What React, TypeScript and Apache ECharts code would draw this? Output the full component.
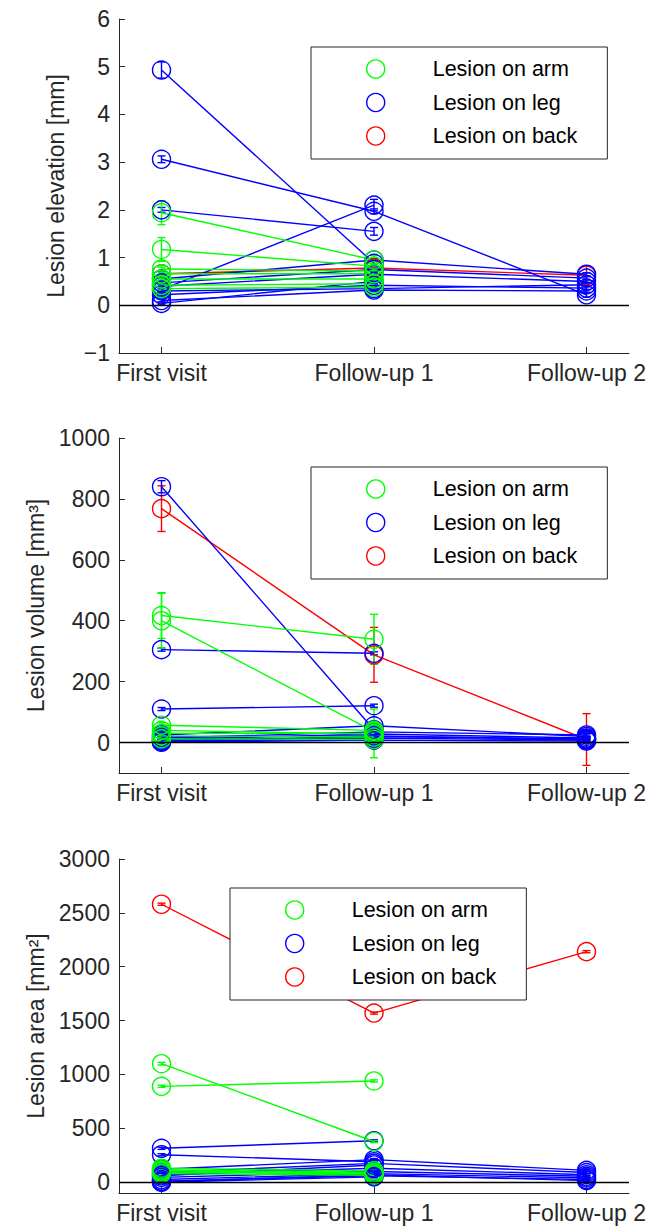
import React, { useEffect, useRef } from 'react';
import * as echarts from 'echarts';

// ---------- categories ----------
const visitLabels = ['First visit', 'Follow-up 1', 'Follow-up 2'];
const visitPos = [1, 2, 3];
const groupNames = ['Lesion on arm', 'Lesion on leg', 'Lesion on back'];
const groupColors = ['#00ff00', '#0000ff', '#ff0000'];

// ---------- tick labels ----------
const elevationTicks = [-1, 0, 1, 2, 3, 4, 5, 6];
const volumeTicks = [0, 200, 400, 600, 800, 1000];
const areaTicks = [0, 500, 1000, 1500, 2000, 2500, 3000];

// ---------- Lesion elevation [mm] ----------
const armElevation = [
  [1.94, 0.95, null], [1.17, 0.82, null], [0.76, 0.72, null], [0.66, 0.66, null],
  [0.55, 0.55, null], [0.42, 0.45, null], [0.35, 0.38, null],
];
const armElevationErr = [
  [0.25, 0.1, null], [0.25, 0.05, null], [0.04, 0.03, null], [0.03, 0.03, null],
  [0.03, 0.03, null], [0.03, 0.03, null], [0.03, 0.03, null],
];
const legElevation = [
  [4.93, 0.88, null], [3.06, 1.97, 0.22], [2.0, 1.55, null], [0.33, 2.1, null],
  [0.55, 0.95, 0.65], [0.47, 0.75, 0.57], [0.4, 0.65, 0.5], [0.3, 0.35, 0.43],
  [0.1, 0.32, 0.3], [0.04, 0.5, null], [0.22, 0.42, 0.36],
];
const legElevationErr = [
  [0.17, 0.05, null], [0.07, 0.05, 0.05], [0.05, 0.08, null], [0.03, 0.12, null],
  [0.03, 0.03, 0.03], [0.03, 0.03, 0.03], [0.03, 0.03, 0.03], [0.03, 0.03, 0.03],
  [0.03, 0.03, 0.03], [0.03, 0.03, null], [0.03, 0.03, 0.03],
];
const backElevation = [[0.66, 0.78, 0.63]];
const backElevationErr = [[0.05, 0.05, 0.2]];

// ---------- Lesion volume [mm3] ----------
const armVolume = [
  [400, 36, null], [417, 339, null], [57, 40, null], [30, 30, null],
  [22, 18, null], [12, 10, null], [40, 28, null],
];
const armVolumeErr = [
  [90, 10, null], [75, 82, null], [8, 6, null], [6, 80, null],
  [5, 5, null], [5, 5, null], [5, 5, null],
];
const legVolume = [
  [840, 42, null], [25, 55, 20], [305, 293, null], [110, 121, null],
  [15, 35, 25], [10, 28, 15], [6, 20, 12], [3, 15, 8],
  [1, 8, 5], [5, 12, null], [18, 22, 10],
];
const legVolumeErr = [
  [20, 5, null], [5, 5, 5], [5, 5, null], [5, 5, null],
  [5, 5, 5], [5, 5, 5], [5, 5, 5], [5, 5, 5],
  [5, 5, 5], [5, 5, null], [5, 5, 5],
];
const backVolume = [[768, 288, 10]];
const backVolumeErr = [[75, 90, 85]];

// ---------- Lesion area [mm2] ----------
const armArea = [
  [1100, 378, null], [890, 940, null], [130, 105, null], [115, 90, null],
  [95, 75, null], [80, 65, null], [105, 85, null],
];
const armAreaErr = [
  [12, 10, null], [10, 10, null], [10, 10, null], [10, 10, null],
  [10, 10, null], [10, 10, null], [10, 10, null],
];
const legArea = [
  [315, 385, null], [120, 210, 110], [255, 190, null], [60, 160, null],
  [90, 175, 90], [70, 130, 70], [45, 100, 55], [25, 80, 40],
  [10, 60, 25], [0, 50, null], [5, 70, 15],
];
const legAreaErr = [
  [10, 10, null], [10, 10, 10], [10, 10, null], [10, 10, null],
  [10, 10, 10], [10, 10, 10], [10, 10, 10], [10, 10, 10],
  [10, 10, 10], [10, 10, null], [10, 10, 10],
];
const backArea = [[2580, 1570, 2140]];
const backAreaErr = [[10, 10, 10]];

const FONT = '"Liberation Sans", Arial, Helvetica, sans-serif';
const AXIS_COLOR = '#262626';

const panels = [
  {
    yName: 'Lesion elevation [mm]', yMin: -1, yMax: 6, ticks: elevationTicks,
    groups: [armElevation, legElevation, backElevation],
    errs: [armElevationErr, legElevationErr, backElevationErr],
    top: 19, height: 334, legendLeft: 311, legendTop: 47,
  },
  {
    yName: 'Lesion volume [mm³]', yMin: -100, yMax: 1000, ticks: volumeTicks,
    groups: [armVolume, legVolume, backVolume],
    errs: [armVolumeErr, legVolumeErr, backVolumeErr],
    top: 438, height: 335, legendLeft: 311, legendTop: 467,
  },
  {
    yName: 'Lesion area [mm²]', yMin: -100, yMax: 3000, ticks: areaTicks,
    groups: [armArea, legArea, backArea],
    errs: [armAreaErr, legAreaErr, backAreaErr],
    top: 859, height: 334, legendLeft: 230, legendTop: 888,
  },
];

const fmtTick = (v: number) => (v < 0 ? '\u2212' + Math.abs(v) : String(v));

function errorSeries(color: string, data: number[][], gi: number, name: string) {
  return {
    type: 'custom',
    name,
    xAxisIndex: gi,
    yAxisIndex: gi,
    silent: true,
    clip: false,
    data,
    encode: { x: 0, y: [1, 2] },
    renderItem: (_params: any, api: any) => {
      const x = api.value(0);
      const lo = api.coord([x, api.value(1)]);
      const hi = api.coord([x, api.value(2)]);
      const cw = 4;
      const style = { stroke: color, lineWidth: 1.4, fill: 'none' };
      return {
        type: 'group',
        children: [
          { type: 'line', shape: { x1: lo[0], y1: lo[1], x2: hi[0], y2: hi[1] }, style },
          { type: 'line', shape: { x1: lo[0] - cw, y1: lo[1], x2: lo[0] + cw, y2: lo[1] }, style },
          { type: 'line', shape: { x1: hi[0] - cw, y1: hi[1], x2: hi[0] + cw, y2: hi[1] }, style },
        ],
      };
    },
  };
}

function buildOption() {
  const grid: any[] = [];
  const xAxis: any[] = [];
  const yAxis: any[] = [];
  const series: any[] = [];
  const legend: any[] = [];
  const drawOrder = [2, 1, 0]; // back, leg, arm

  panels.forEach((p, gi) => {
    grid.push({ left: 119, width: 510, top: p.top, height: p.height, containLabel: false });
    xAxis.push({
      type: 'value', gridIndex: gi, min: 0.8, max: 3.2,
      axisLine: { show: true, onZero: false, lineStyle: { color: AXIS_COLOR, width: 1 } },
      axisTick: { show: true, inside: true, length: 6, customValues: visitPos, lineStyle: { color: AXIS_COLOR } },
      axisLabel: {
        show: true, customValues: visitPos, margin: 8, color: AXIS_COLOR, fontSize: 23, fontFamily: FONT,
        formatter: (v: number) => visitLabels[Math.round(v) - 1] ?? '',
      },
      splitLine: { show: false },
    });
    yAxis.push({
      type: 'value', gridIndex: gi, min: p.yMin, max: p.yMax,
      name: p.yName, nameLocation: 'middle', nameGap: 52, nameRotate: 90,
      nameTextStyle: { fontSize: 23, fontFamily: FONT, color: AXIS_COLOR },
      axisLine: { show: true, onZero: false, lineStyle: { color: AXIS_COLOR, width: 1 } },
      axisTick: { show: true, inside: true, length: 6, customValues: p.ticks, lineStyle: { color: AXIS_COLOR } },
      axisLabel: {
        show: true, customValues: p.ticks, margin: 9, color: AXIS_COLOR, fontSize: 23, fontFamily: FONT,
        formatter: fmtTick,
      },
      splitLine: { show: false },
    });

    drawOrder.forEach((k) => {
      const color = groupColors[k];
      const lesions = p.groups[k];
      const errs = p.errs[k];
      const errData: number[][] = [];
      lesions.forEach((vals, li) => {
        vals.forEach((y, vi) => {
          const e = errs[li][vi];
          if (y != null && e != null) errData.push([visitPos[vi], y - e, y + e]);
        });
      });
      series.push(errorSeries(color, errData, gi, 'err-' + groupNames[k]));
      lesions.forEach((vals) => {
        const data = vals
          .map((y, vi) => (y == null ? null : [visitPos[vi], y]))
          .filter((d) => d != null);
        series.push({
          type: 'line', name: groupNames[k], xAxisIndex: gi, yAxisIndex: gi,
          data, silent: true, symbol: 'circle', symbolSize: 18, showAllSymbol: true,
          lineStyle: { color, width: 1.4 },
          itemStyle: { color: 'rgba(0,0,0,0)', borderColor: color, borderWidth: 1.4 },
          emphasis: { disabled: true },
        });
      });
    });

    series.push({
      type: 'line', name: 'zero-' + gi, xAxisIndex: gi, yAxisIndex: gi, data: [], silent: true, z: 5,
      markLine: {
        silent: true, symbol: 'none', label: { show: false }, animation: false,
        lineStyle: { color: '#000', width: 1.4, type: 'solid' },
        data: [{ yAxis: 0 }],
      },
    });

    legend.push({
      show: true, orient: 'vertical', left: p.legendLeft, top: p.legendTop,
      itemWidth: 104, itemHeight: 18, itemGap: 11.5,
      padding: [11, 30, 12, 55],
      borderColor: AXIS_COLOR, borderWidth: 1, backgroundColor: '#ffffff',
      selectedMode: false, z: 10,
      textStyle: { fontSize: 21.5, color: '#000', fontFamily: FONT },
      data: groupNames.map((n, k) => ({
        name: n, icon: 'circle',
        itemStyle: { color: 'rgba(0,0,0,0)', borderColor: groupColors[k], borderWidth: 1.4 },
      })),
    });
  });

  return {
    animation: false,
    backgroundColor: '#ffffff',
    textStyle: { fontFamily: FONT },
    grid, xAxis, yAxis, series, legend,
  };
}

export default function App() {
  const ref = useRef<HTMLDivElement>(null);
  useEffect(() => {
    const chart = echarts.init(ref.current!, null, { renderer: 'svg' });
    chart.setOption(buildOption() as any);
    return () => chart.dispose();
  }, []);
  return (
    <div
      ref={ref}
      style={{ position: 'fixed', left: 0, top: 0, width: 665, height: 1226, background: '#fff' }}
    />
  );
}
